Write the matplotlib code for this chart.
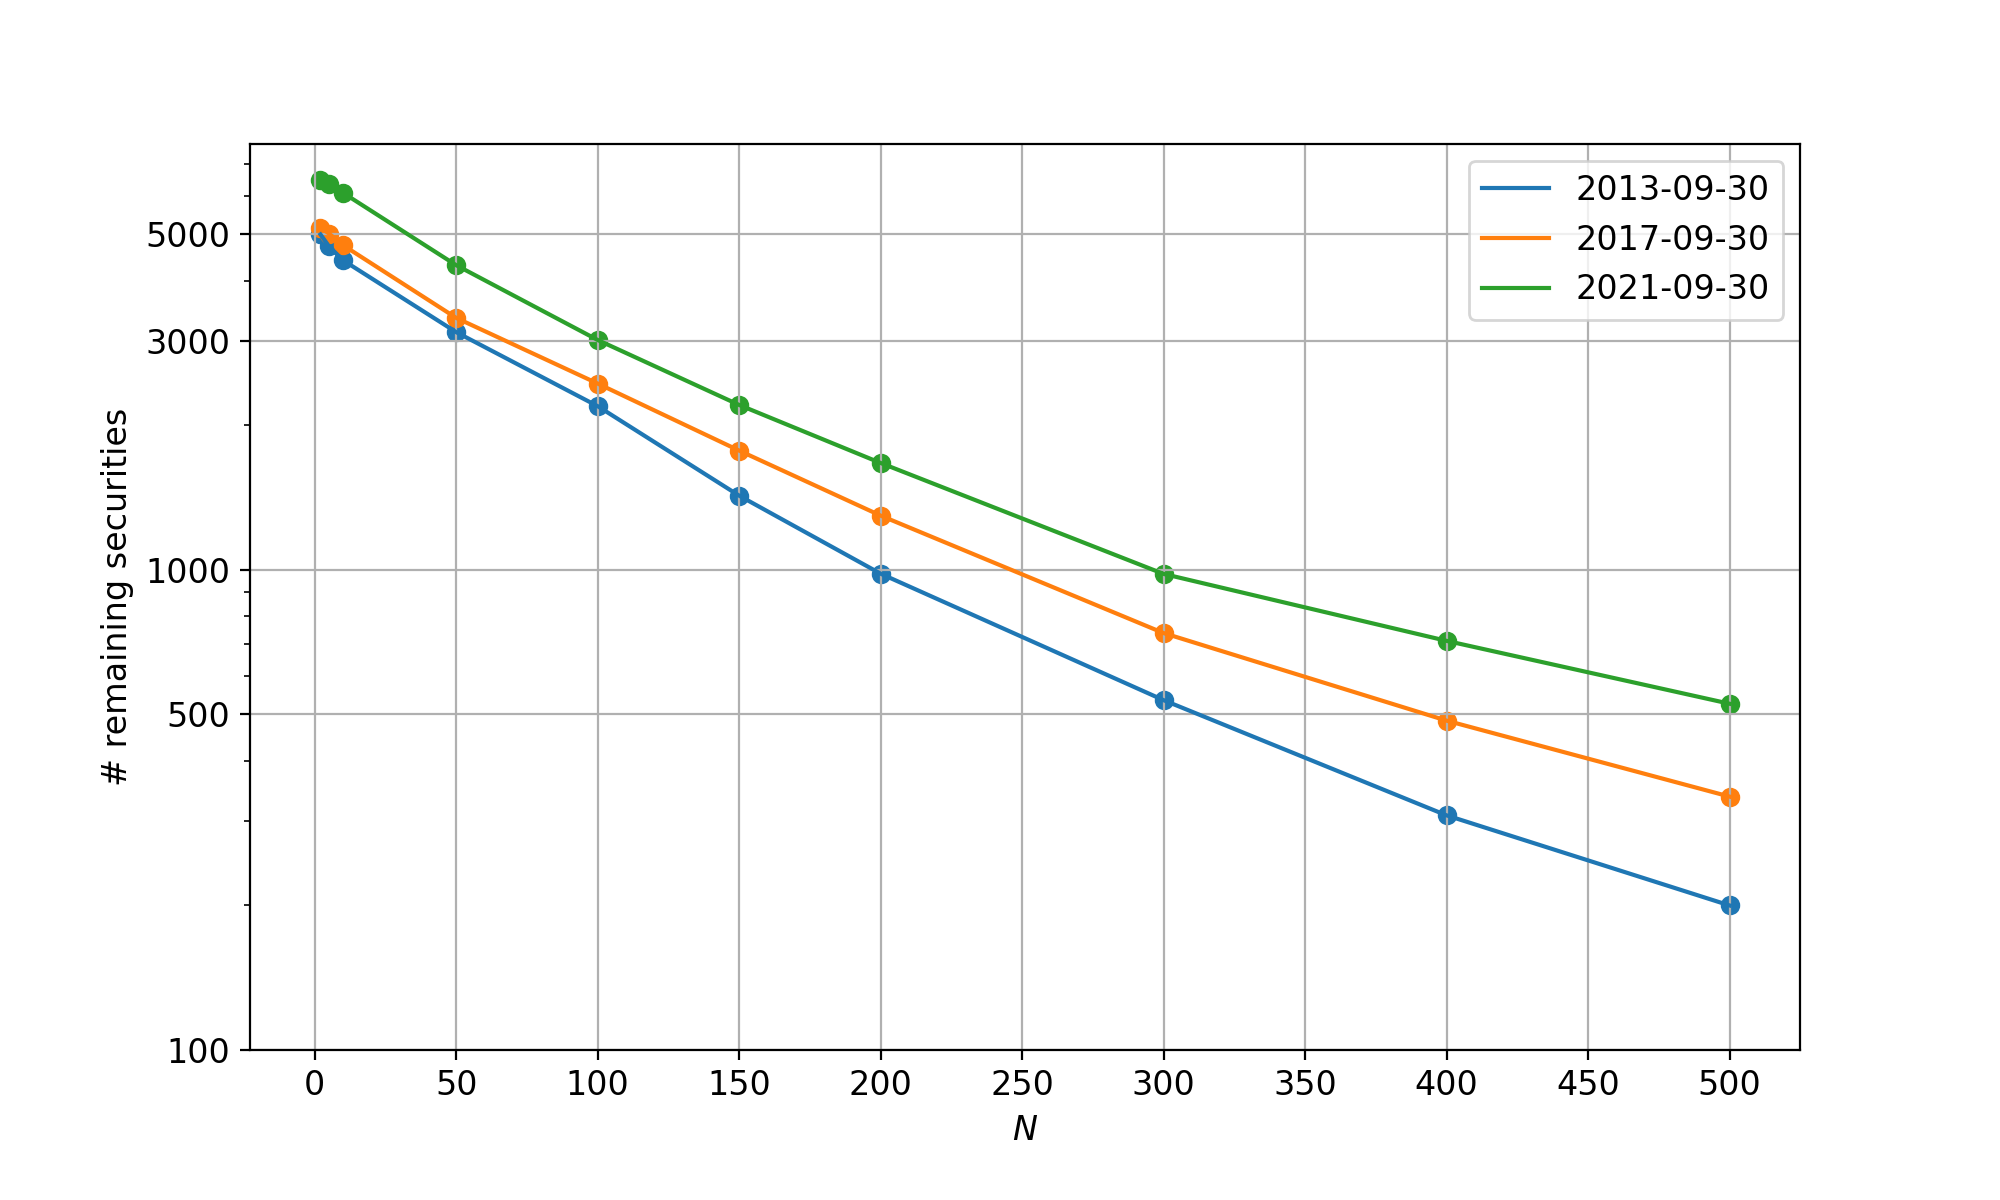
import matplotlib
matplotlib.use("Agg")
from matplotlib import pyplot as plt
from matplotlib import ticker

n_values = [2, 5, 10, 50, 100, 150, 200, 300, 400, 500]
dates = ["2013-09-30", "2017-09-30", "2021-09-30"]

remaining_2013 = [4990, 4715, 4408, 3123, 2190, 1426, 981, 535, 308, 200]
remaining_2017 = [5150, 5012, 4738, 3344, 2441, 1770, 1296, 738, 485, 337]
remaining_2021 = [6470, 6362, 6090, 4305, 3008, 2203, 1668, 980, 711, 526]

series = [remaining_2013, remaining_2017, remaining_2021]
y_ticks = [100, 500, 1000, 3000, 5000]

plt.rcParams["font.size"] = 12

fig, ax = plt.subplots(figsize=(10, 6), dpi=200)
fig.subplots_adjust(left=0.125, right=0.9, bottom=0.125, top=0.88)

for i, (label, vals) in enumerate(zip(dates, series)):
    ax.plot(n_values, vals, color=f"C{i}", label=label)
    ax.scatter(n_values, vals, color=f"C{i}")

ax.set_yscale("log")
ax.set_ylim(bottom=100)
ax.yaxis.set_major_locator(ticker.FixedLocator(y_ticks))
ax.yaxis.set_major_formatter(ticker.ScalarFormatter())
ax.yaxis.set_minor_formatter(ticker.NullFormatter())
ax.set_xticks(range(0, 501, 50))

ax.grid(True)
ax.set_xlabel("$N$")
ax.set_ylabel("# remaining securities")
ax.legend(loc="upper right")

plt.savefig("out.png")
